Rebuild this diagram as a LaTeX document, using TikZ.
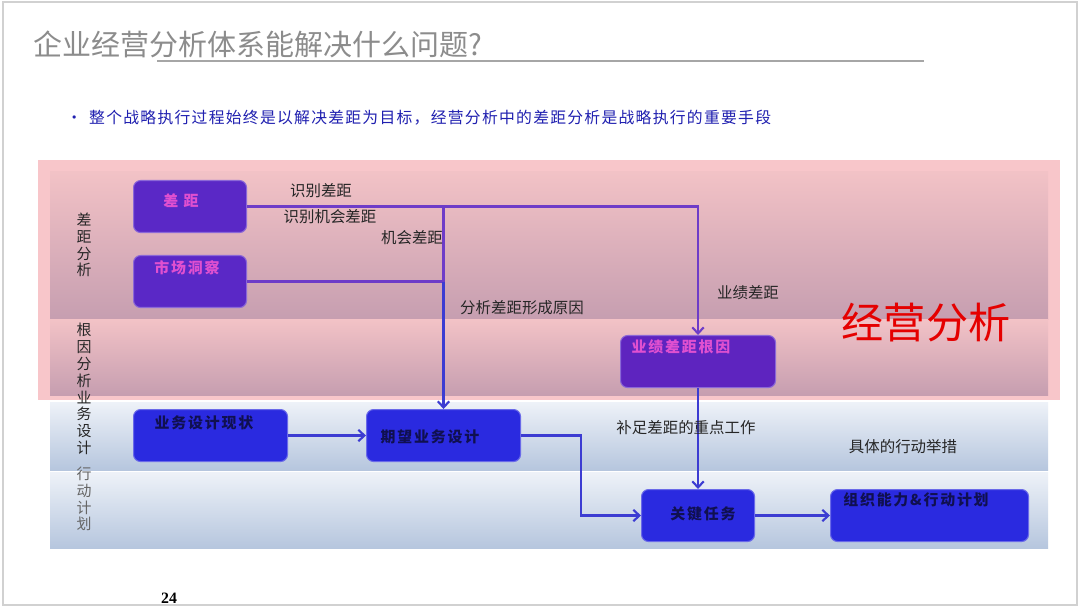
\documentclass[tikz,border=0pt]{standalone}
\usepackage{fontspec}
\setmainfont{Liberation Serif}
\newfontfamily\cjk{Noto Sans CJK SC}
\newfontfamily\cjksp[LetterSpace=12]{Noto Sans CJK SC}
\usetikzlibrary{arrows.meta}
\definecolor{pinkout}{HTML}{F8C6CA}
\definecolor{pinktop}{HTML}{F2C2C6}
\definecolor{mauve}{HTML}{C69EB0}
\definecolor{bluetop}{HTML}{EEF2F8}
\definecolor{bluebot}{HTML}{B6C6DE}
\definecolor{purplebox}{HTML}{5A28C6}
\definecolor{bluebox}{HTML}{2A2AE0}
\definecolor{plink}{HTML}{6E3CC8}
\definecolor{blink}{HTML}{3C3CD2}
\definecolor{boxpink}{HTML}{E050D0}
\definecolor{navy}{HTML}{101050}
\definecolor{subblue}{HTML}{2020B0}
\begin{document}
\begin{tikzpicture}[x=0.02cm,y=-0.02cm,
  pbox/.style={draw=purplebox!70!white,line width=0.6pt,fill=purplebox,rounded corners=4pt,inner sep=0pt},
  bbox/.style={draw=bluebox!70!white,line width=0.6pt,fill=bluebox,rounded corners=4pt,inner sep=0pt},
  ptxt/.style={font=\cjksp\bfseries\fontsize{8.5}{10}\selectfont,text=boxpink,inner sep=0pt},
  btxt/.style={font=\cjksp\bfseries\fontsize{8.5}{10}\selectfont,text=navy,inner sep=0pt},
  lbl/.style={font=\cjk\fontsize{8.8}{10}\selectfont,text=black!85,inner sep=0pt},
  side/.style={font=\cjk\fontsize{8.5}{9.55}\selectfont,align=center,inner sep=0pt,text=black!85},
  arrP/.style={draw=plink,line width=1.3pt,-{Straight Barb[length=3.5pt,width=6.5pt,line width=1.2pt]}},
  lineP/.style={draw=plink,line width=1.3pt},
  arrB/.style={draw=blink,line width=1.3pt,-{Straight Barb[length=3.5pt,width=6.5pt,line width=1.2pt]}},
  lineB/.style={draw=blink,line width=1.3pt}]
\useasboundingbox (0,0) rectangle (1080,608);
\fill[white] (0,0) rectangle (1080,608);
\draw[black!18,line width=1.5pt] (3,2) rectangle (1077,605);

% title
\node[font=\cjk\fontsize{16.5}{18}\selectfont,text=black!45,anchor=west,inner sep=0pt] (title) at (33,44) {企业经营分析体系能解决什么问题?};
\draw[gray!70,line width=1pt] (157,61) -- (924,61);
\node[font=\cjk\fontsize{9}{10}\selectfont,text=subblue,anchor=west,inner sep=0pt] (sub) at (66,118) {·\ \ \addfontfeatures{LetterSpace=8}整个战略执行过程始终是以解决差距为目标，经营分析中的差距分析是战略执行的重要手段};

% bands
\fill[pinkout] (38,160) rectangle (1060,400);
\shade[top color=pinktop,bottom color=mauve] (50,172) rectangle (1048,320);
\shade[top color=pinktop,bottom color=mauve] (50,320) rectangle (1048,395);
\shade[top color=bluetop,bottom color=bluebot] (50,402) rectangle (1048,470);
\shade[top color=bluetop,bottom color=bluebot] (50,472) rectangle (1048,548);

% side labels
\node[side] (s1) at (84,245) {差\\距\\分\\析};
\node[side] (s2) at (84,389) {根\\因\\分\\析\\业\\务\\设\\计};
\node[side,text=black!60] (s3) at (84,499) {行\\动\\计\\划};

% boxes
\node[pbox,minimum width={113*0.02cm},minimum height={52*0.02cm},anchor=north west] (gap) at (133,180) {};
\node[pbox,minimum width={113*0.02cm},minimum height={52*0.02cm},anchor=north west] (mkt) at (133,255) {};
\node[pbox,fill=purplebox!90!violet,minimum width={155*0.02cm},minimum height={52*0.02cm},anchor=north west] (rc) at (620,335) {};
\node[bbox,minimum width={154*0.02cm},minimum height={52*0.02cm},anchor=north west] (cur) at (133,409) {};
\node[bbox,minimum width={154*0.02cm},minimum height={52*0.02cm},anchor=north west] (exp) at (366,409) {};
\node[bbox,minimum width={113*0.02cm},minimum height={52*0.02cm},anchor=north west] (key) at (641,489) {};
\node[bbox,minimum width={198*0.02cm},minimum height={52*0.02cm},anchor=north west] (org) at (830,489) {};

% box texts
\node[ptxt] (tgap) at (181,201) {差\ 距};
\node[ptxt] (tmkt) at (187,268) {市场洞察};
\node[ptxt] (trc) at (681,347) {业绩差距根因};
\node[btxt] (tcur) at (204,423) {业务设计现状};
\node[btxt] (texp) at (430,437) {期望业务设计};
\node[btxt] (tkey) at (703,514) {关键任务};
\node[btxt] (torg) at (916,500) {组织能力\&行动计划};

% connectors
\coordinate (j1) at (gap.east -| exp.north);
\coordinate (j2) at (mkt.east -| exp.north);
\draw[arrP] (gap.east) -| (rc.north);
\draw[lineP] (mkt.east) -- (j2);
\draw[lineP] (j1) -- (j2);
\draw[arrB] (j2) -- (exp.north);
\draw[arrB] (rc.south) -- (key.north);
\draw[arrB] (cur.east) -- (exp.west);
\coordinate (k1) at ([xshift=60*0.02cm]exp.east);
\draw[arrB] (exp.east) -- (k1) |- (key.west);
\draw[arrB] (key.east) -- (org.west);

% labels
\node[lbl] (l1) at (321,191) {识别差距};
\node[lbl] (l2) at (330,217) {识别机会差距};
\node[lbl] (l3) at (412,238) {机会差距};
\node[lbl] (l4) at (522,308) {分析差距形成原因};
\node[lbl] (l5) at (748,293) {业绩差距};
\node[lbl] (l6) at (686,428) {补足差距的重点工作};
\node[lbl] (l7) at (903,447) {具体的行动举措};
\node[font=\cjk\fontsize{24}{26}\selectfont,text=red!90!black,inner sep=0pt] (big) at (926,323) {经营分析};
\node[font=\bfseries\fontsize{9}{10}\selectfont,inner sep=0pt] (pg) at (169,598) {24};
\end{tikzpicture}
\end{document}
